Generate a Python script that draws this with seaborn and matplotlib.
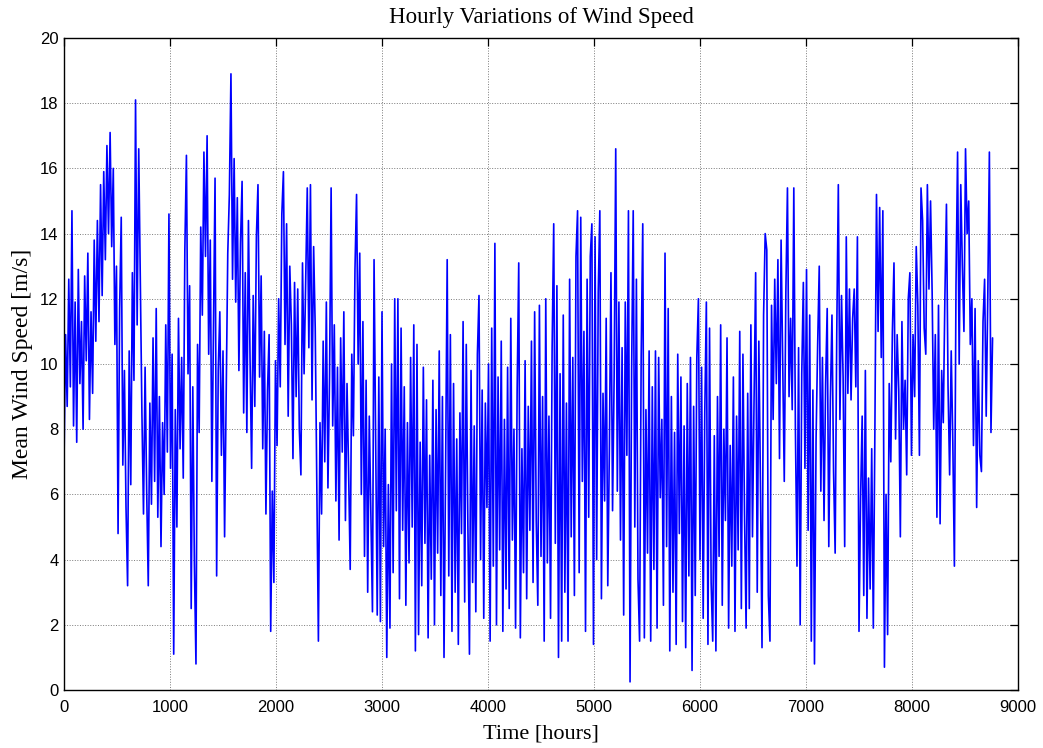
import numpy as np
import pandas as pd
import matplotlib
matplotlib.use("Agg")
import matplotlib.pyplot as plt
import seaborn as sns

# Hourly mean wind speed [m/s], one reading every STEP_HOURS hours,
# split into consecutive blocks of 49 readings (735 h each).
STEP_HOURS = 15

part_01 = [7.0, 10.9, 8.7, 12.6, 9.3, 14.7, 8.1, 11.9, 7.6, 12.9, 9.4, 11.3, 8.0, 12.7, 10.1, 13.4,
           8.3, 11.6, 9.1, 13.8, 10.7, 14.4, 11.3, 15.5, 12.1, 15.9, 13.2, 16.7, 14.0, 17.1, 13.6, 16.0,
           10.6, 13.0, 4.8, 11.7, 14.5, 6.9, 9.8, 5.6, 3.2, 10.4, 6.3, 12.8, 9.5, 18.1, 11.2, 16.6, 12.5]
part_02 = [8.5, 5.4, 9.9, 6.1, 3.2, 8.8, 5.7, 10.8, 6.4, 11.7, 5.3, 9.0, 4.4, 8.2, 6.0, 11.2,
           7.3, 14.6, 6.8, 10.3, 1.1, 8.6, 5.0, 11.4, 7.4, 10.2, 6.5, 13.5, 16.4, 9.7, 12.4, 2.5,
           9.3, 3.9, 0.8, 10.6, 7.9, 14.2, 11.5, 16.5, 13.3, 17.0, 10.3, 13.8, 6.4, 11.0, 15.7, 3.5, 9.8]
part_03 = [11.6, 7.2, 10.4, 4.7, 9.1, 13.4, 15.2, 18.9, 12.6, 16.3, 11.9, 15.1, 9.8, 13.7, 15.6, 8.5,
           12.8, 7.9, 14.4, 10.2, 6.8, 12.1, 8.7, 13.9, 15.5, 9.6, 12.7, 7.4, 11.0, 5.4, 9.2, 10.9,
           1.8, 6.1, 3.3, 10.1, 7.5, 12.0, 9.3, 14.6, 15.9, 10.6, 14.3, 8.4, 13.0, 11.2, 7.1, 12.5, 9.0]
part_04 = [12.3, 8.0, 6.6, 13.1, 9.7, 12.6, 15.4, 10.5, 15.5, 8.9, 13.6, 11.1, 6.3, 1.5, 8.2, 5.4,
           10.7, 7.0, 11.9, 6.2, 9.6, 15.4, 8.1, 11.2, 5.8, 9.9, 4.6, 10.8, 7.3, 11.6, 5.2, 9.4,
           6.7, 3.7, 10.3, 7.8, 12.9, 15.2, 10.0, 13.4, 6.0, 11.3, 4.1, 9.5, 3.0, 8.4, 5.5, 2.4, 13.2]
part_05 = [7.9, 2.3, 9.6, 2.1, 11.6, 4.4, 8.0, 1.0, 6.3, 1.9, 10.0, 3.6, 12.0, 5.5, 12.0, 2.8,
           11.1, 4.9, 9.3, 2.6, 8.2, 3.9, 10.2, 5.0, 11.2, 1.2, 10.6, 1.7, 7.6, 3.2, 9.9, 4.5,
           8.9, 1.6, 7.2, 3.4, 9.5, 2.0, 8.6, 4.2, 10.4, 2.9, 9.0, 1.0, 6.8, 13.2, 3.5, 10.9, 1.8]
part_06 = [9.4, 3.0, 7.7, 1.4, 8.5, 4.8, 11.3, 2.7, 10.6, 5.1, 1.1, 9.8, 3.3, 8.1, 2.4, 10.3,
           12.1, 4.0, 9.2, 2.2, 8.8, 5.6, 10.0, 1.5, 11.1, 3.8, 13.7, 2.0, 9.6, 4.3, 10.7, 1.8,
           8.3, 3.1, 9.9, 2.5, 11.4, 4.6, 8.0, 1.9, 9.2, 13.1, 1.6, 7.4, 3.6, 10.1, 2.8, 8.7, 4.9]
part_07 = [10.7, 3.3, 11.6, 5.2, 2.6, 11.8, 4.1, 9.0, 1.5, 12.0, 3.9, 8.4, 2.2, 10.5, 14.3, 4.5,
           12.4, 1.0, 9.7, 1.5, 11.5, 3.0, 8.8, 1.5, 12.6, 4.7, 10.2, 2.9, 13.3, 14.7, 3.6, 14.5,
           6.4, 11.0, 1.8, 12.6, 5.3, 13.3, 14.3, 1.4, 13.9, 4.0, 12.2, 14.7, 2.8, 9.1, 5.8, 11.4, 3.2]
part_08 = [7.4, 12.8, 5.5, 9.6, 16.6, 6.1, 11.9, 4.6, 10.5, 2.3, 11.9, 7.2, 14.7, 0.25, 9.8, 14.7,
           5.0, 12.6, 3.4, 1.5, 10.2, 14.3, 1.6, 8.6, 4.2, 10.4, 1.5, 9.3, 3.7, 10.4, 1.9, 10.2,
           5.9, 8.3, 2.6, 13.4, 4.4, 11.7, 1.2, 9.0, 3.0, 7.9, 1.4, 10.3, 4.8, 9.6, 2.1, 8.1, 1.3]
part_09 = [9.4, 3.5, 10.2, 0.6, 8.7, 2.9, 10.2, 12.0, 4.0, 9.9, 2.2, 8.5, 11.9, 1.4, 11.1, 3.3,
           1.5, 7.8, 1.2, 9.0, 4.1, 11.2, 2.6, 8.0, 5.2, 10.8, 1.9, 7.5, 3.8, 9.6, 1.8, 8.4,
           4.3, 11.0, 2.5, 10.3, 5.4, 1.9, 9.1, 2.5, 11.2, 4.7, 8.9, 12.8, 3.0, 10.7, 6.4, 1.3, 11.5]
part_10 = [14.0, 13.5, 2.9, 1.5, 11.8, 8.3, 12.6, 9.4, 13.2, 7.1, 13.8, 10.1, 6.4, 12.2, 15.4, 9.0,
           11.4, 8.6, 15.4, 8.0, 3.8, 10.5, 2.0, 9.7, 12.5, 6.8, 12.9, 4.9, 11.5, 1.5, 9.2, 0.8,
           7.7, 10.6, 13.0, 6.1, 10.2, 5.2, 9.4, 11.7, 4.4, 8.9, 11.5, 6.7, 4.2, 10.9, 15.5, 8.3, 12.1]
part_11 = [9.6, 4.4, 13.9, 9.1, 12.3, 8.9, 11.4, 12.3, 9.3, 13.9, 1.8, 5.9, 8.4, 2.9, 9.8, 2.2,
           6.5, 3.1, 7.4, 1.9, 8.0, 15.2, 11.0, 14.8, 10.2, 14.7, 0.7, 6.0, 1.7, 9.4, 7.0, 11.0,
           13.1, 7.7, 10.9, 9.2, 4.7, 11.3, 8.0, 9.5, 6.6, 12.0, 12.8, 7.2, 10.9, 9.0, 13.6, 11.8, 7.2]
part_12 = [15.4, 14.4, 11.1, 10.3, 15.5, 12.3, 15.0, 12.2, 8.0, 10.9, 5.3, 11.8, 5.1, 9.8, 8.2, 12.0,
           14.9, 9.3, 6.6, 10.4, 7.6, 3.8, 12.4, 16.5, 10.0, 15.5, 13.0, 11.0, 16.6, 14.0, 15.0, 10.6,
           12.0, 7.5, 11.7, 5.6, 10.1, 7.2, 6.7, 11.3, 12.6, 8.4, 12.1, 16.5, 7.9, 10.8]

speed = (part_01 + part_02 + part_03 + part_04 + part_05 + part_06 +
         part_07 + part_08 + part_09 + part_10 + part_11 + part_12)
hours = np.arange(len(speed)) * STEP_HOURS
df = pd.DataFrame({"hour": hours, "speed": speed})

x_ticks = list(range(0, 9001, 1000))
y_ticks = list(range(0, 21, 2))

sns.set_theme(style="white")
plt.rcParams["font.family"] = ["Liberation Sans", "DejaVu Sans"]
plt.rcParams["text.color"] = "black"
plt.rcParams["axes.labelcolor"] = "black"
plt.rcParams["axes.edgecolor"] = "black"
plt.rcParams["axes.linewidth"] = 1.0

fig = plt.figure(figsize=(10.43, 7.48), dpi=100)
ax = fig.add_axes([64 / 1043, 1 - 690 / 748, (1018 - 64) / 1043, (690 - 38) / 748])

sns.lineplot(data=df, x="hour", y="speed", color="#0000ff", linewidth=1.2,
             sort=False, estimator=None, ax=ax)

ax.set_xlim(0, 9000)
ax.set_ylim(0, 20)
ax.set_xticks(x_ticks)
ax.set_yticks(y_ticks)
ax.set_xticklabels([str(t) for t in x_ticks])
ax.set_yticklabels([str(t) for t in y_ticks])
ax.grid(True, color="#7a7a7a", linestyle=":", linewidth=0.7)
ax.tick_params(direction="in", length=6, width=0.9, colors="black", labelsize=12,
               top=True, right=True, pad=4)
ax.tick_params(axis="x", pad=7)
for side in ("top", "right", "bottom", "left"):
    ax.spines[side].set_visible(True)
    ax.spines[side].set_color("black")

serif = ["Liberation Serif", "DejaVu Serif"]
ax.set_title("Hourly Variations of Wind Speed", fontsize=16.5, family=serif,
             color="black", pad=11)
ax.set_xlabel("Time [hours]", fontsize=16, family=serif, labelpad=7)
ax.set_ylabel("Mean Wind Speed [m/s]", fontsize=17, family=serif, labelpad=5)

fig.savefig("out.png", dpi=100)
